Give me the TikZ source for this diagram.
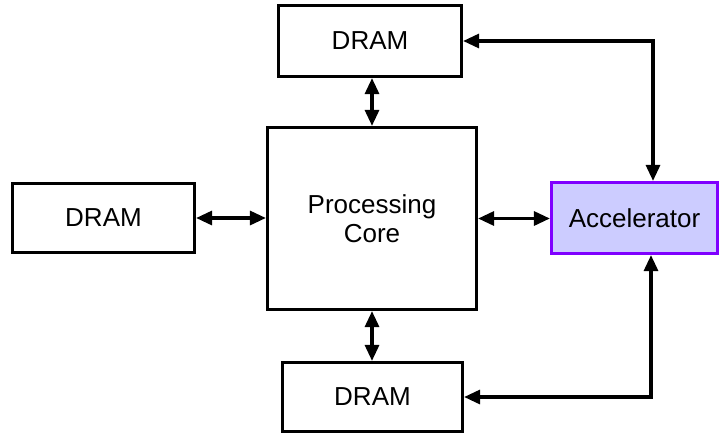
\documentclass[tikz,border=0pt]{standalone}
\usepackage{fontspec}
\setmainfont{Liberation Sans}
\usetikzlibrary{arrows.meta}
\definecolor{accfill}{RGB}{204,204,255}
\definecolor{accline}{RGB}{127,0,255}
\tikzset{
  blk/.style={draw=black, line width=3.2pt, fill=white, inner sep=0pt,
    font=\fontsize{26}{29}\selectfont, align=center},
  acc/.style={blk, draw=accline, fill=accfill},
  link/.style={line width=3.2pt, {Triangle[length=16pt,width=14pt]}-{Triangle[length=16pt,width=14pt]}}
}
\begin{document}
\begin{tikzpicture}[x=1pt,y=-1pt]
  \useasboundingbox (0,0) rectangle (720,434);
  % boxes
  \node[blk, minimum width=183pt, minimum height=71pt] (dtop) at (370,41) {DRAM};
  \node[blk, minimum width=209pt, minimum height=182pt] (core) at (372,218.5) {Processing\\Core};
  \node[blk, minimum width=180pt, minimum height=69pt] (dbot) at (372.5,397) {DRAM};
  \node[blk, minimum width=182pt, minimum height=69pt] (dleft) at (103.5,218) {DRAM};
  \node[acc, minimum width=166pt, minimum height=71pt] (accel) at (634.5,218) {Accelerator};
  % corner points of the accelerator links
  \coordinate (ctop) at (653,41);
  \coordinate (cbot) at (651,397);
  % connectors
  \draw[link] (dtop.south -| core.north) -- (core.north);
  \draw[link] (core.south) -- (core.south |- dbot.north);
  \draw[link] (dleft.east) -- (dleft.east -| core.west);
  \draw[link] (core.east) -- (core.east -| accel.west);
  \draw[link] (dtop.east) -- (ctop) -- (ctop |- accel.north);
  \draw[link] (dbot.east) -- (cbot) -- (cbot |- accel.south);
\end{tikzpicture}
\end{document}
